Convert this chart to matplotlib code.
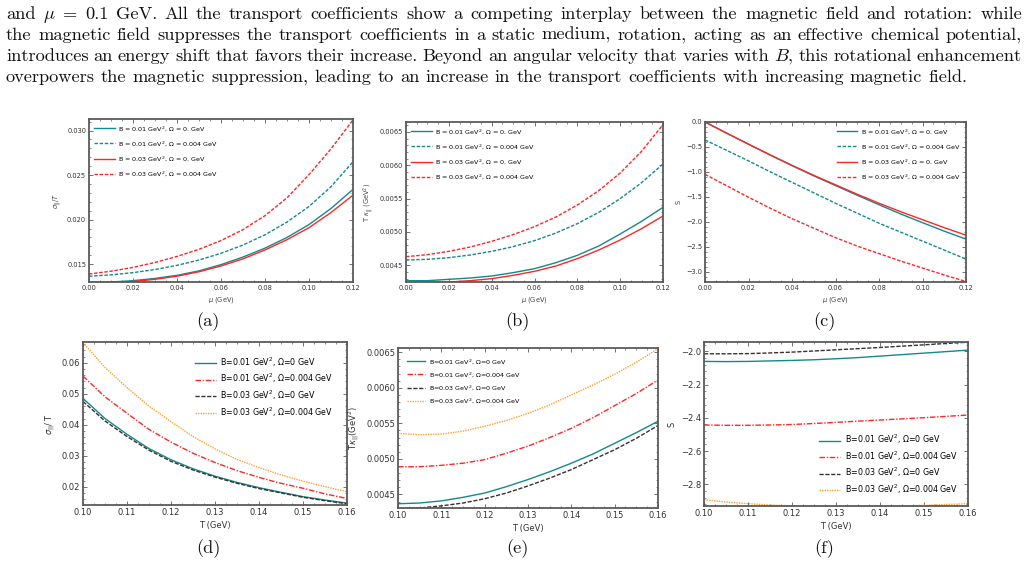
"""
Transport coefficients of a rotating, magnetised medium: six panels
(a)-(f) below the paragraph of text that introduces them.
"""

import matplotlib
matplotlib.use("Agg")
import matplotlib.pyplot as plt
from matplotlib.ticker import AutoMinorLocator


W, H = 1028, 567

# ---- data ----
mu = [0.00, 0.01, 0.02, 0.03, 0.04, 0.05, 0.06, 0.07, 0.08, 0.09, 0.10, 0.11, 0.12]
temp = [0.100, 0.105, 0.110, 0.115, 0.120, 0.125, 0.130, 0.135, 0.140, 0.145, 0.150, 0.155, 0.160]

# (a) sigma/T vs mu
sig_mu_b1_w0 = [0.01295, 0.01300, 0.01315, 0.01340, 0.01375, 0.01425, 0.01495, 0.01580, 0.01680, 0.01800, 0.01945, 0.02125, 0.02340]
sig_mu_b1_w4 = [0.01365, 0.01380, 0.01405, 0.01440, 0.01487, 0.01547, 0.01622, 0.01715, 0.01830, 0.01973, 0.02148, 0.02370, 0.02650]
sig_mu_b3_w0 = [0.01290, 0.01293, 0.01305, 0.01330, 0.01365, 0.01415, 0.01480, 0.01560, 0.01660, 0.01775, 0.01910, 0.02080, 0.02275]
sig_mu_b3_w4 = [0.01390, 0.01421, 0.01464, 0.01519, 0.01587, 0.01667, 0.01765, 0.01888, 0.02045, 0.02245, 0.02505, 0.02795, 0.03120]

# (b) T kappa vs mu
kap_mu_b1_w0 = [0.00427, 0.00427, 0.00429, 0.00431, 0.00434, 0.00439, 0.00445, 0.00454, 0.00465, 0.00479, 0.00497, 0.00516, 0.00537]
kap_mu_b1_w4 = [0.00458, 0.00459, 0.004615, 0.004655, 0.00471, 0.00478, 0.00487, 0.004985, 0.005125, 0.005295, 0.00550, 0.00574, 0.00602]
kap_mu_b3_w0 = [0.00424, 0.00424, 0.00425, 0.00427, 0.00430, 0.00435, 0.00441, 0.00449, 0.00460, 0.00473, 0.00488, 0.00505, 0.00524]
kap_mu_b3_w4 = [0.00463, 0.00466, 0.00471, 0.004775, 0.00486, 0.00496, 0.00508, 0.005225, 0.005405, 0.00562, 0.005885, 0.00621, 0.00661]

# (c) S vs mu
s_mu_b1_w0 = [0.0, -0.225, -0.445, -0.665, -0.876, -1.08, -1.275, -1.47, -1.66, -1.845, -2.02, -2.19, -2.35]
s_mu_b1_w4 = [-0.36, -0.57, -0.78, -1.00, -1.21, -1.42, -1.63, -1.83, -2.03, -2.21, -2.39, -2.57, -2.75]
s_mu_b3_w0 = [0.0, -0.225, -0.445, -0.66, -0.87, -1.07, -1.26, -1.45, -1.63, -1.80, -1.96, -2.12, -2.27]
s_mu_b3_w4 = [-1.05, -1.28, -1.51, -1.73, -1.94, -2.13, -2.32, -2.49, -2.64, -2.79, -2.93, -3.07, -3.20]

# (d) sigma/T vs T
sig_t_b1_w0 = [0.0485, 0.0420, 0.0369, 0.0323, 0.0287, 0.0258, 0.0234, 0.0214, 0.0197, 0.0182, 0.0168, 0.0157, 0.0147]
sig_t_b1_w4 = [0.0557, 0.0490, 0.0437, 0.0385, 0.0344, 0.0308, 0.0278, 0.0252, 0.0230, 0.0211, 0.0195, 0.0177, 0.0162]
sig_t_b3_w0 = [0.0475, 0.0412, 0.0362, 0.0318, 0.0282, 0.0254, 0.0231, 0.0211, 0.0194, 0.0180, 0.0166, 0.0155, 0.0145]
sig_t_b3_w4 = [0.0665, 0.0585, 0.0520, 0.0460, 0.0410, 0.0362, 0.0322, 0.0288, 0.0262, 0.0238, 0.0218, 0.0200, 0.0184]

# (e) T kappa vs T
kap_t_b1_w0 = [0.00437, 0.00438, 0.00441, 0.00446, 0.00452, 0.00461, 0.00471, 0.00482, 0.00494, 0.00507, 0.00522, 0.00537, 0.00553]
kap_t_b1_w4 = [0.00489, 0.00489, 0.00491, 0.00494, 0.00499, 0.00508, 0.00518, 0.00530, 0.00543, 0.00558, 0.00575, 0.00592, 0.00611]
kap_t_b3_w0 = [0.00430, 0.00431, 0.00434, 0.00438, 0.00444, 0.00452, 0.00462, 0.00473, 0.00485, 0.00499, 0.00513, 0.00529, 0.00547]
kap_t_b3_w4 = [0.00536, 0.00534, 0.00535, 0.00539, 0.00546, 0.00554, 0.00564, 0.00576, 0.00590, 0.00604, 0.00619, 0.00636, 0.00655]

# (f) S vs T
s_t_b1_w0 = [-2.060, -2.061, -2.060, -2.057, -2.054, -2.050, -2.044, -2.037, -2.028, -2.019, -2.010, -2.001, -1.992]
s_t_b1_w4 = [-2.443, -2.445, -2.445, -2.443, -2.440, -2.434, -2.427, -2.420, -2.413, -2.406, -2.399, -2.391, -2.383]
s_t_b3_w0 = [-2.014, -2.014, -2.013, -2.009, -2.004, -1.997, -1.990, -1.983, -1.976, -1.968, -1.960, -1.952, -1.944]
s_t_b3_w4 = [-2.893, -2.907, -2.917, -2.925, -2.930, -2.933, -2.935, -2.935, -2.934, -2.931, -2.927, -2.922, -2.917]

labels_mu = [
    "B = 0.01 GeV$^2$, Ω = 0. GeV",
    "B = 0.01 GeV$^2$, Ω = 0.004 GeV",
    "B = 0.03 GeV$^2$, Ω = 0. GeV",
    "B = 0.03 GeV$^2$, Ω = 0.004 GeV",
]
labels_t = [
    "B=0.01 GeV$^2$, Ω=0 GeV",
    "B=0.01 GeV$^2$, Ω=0.004 GeV",
    "B=0.03 GeV$^2$, Ω=0 GeV",
    "B=0.03 GeV$^2$, Ω=0.004 GeV",
]

paragraph = [
    r"and $\mu$ = 0.1 GeV.  All the transport coefficients show a competing interplay between the magnetic field and rotation: while",
    r"the magnetic field suppresses the transport coefficients in a static medium, rotation, acting as an effective chemical potential,",
    r"introduces an energy shift that favors their increase. Beyond an angular velocity that varies with $B$, this rotational enhancement",
    r"overpowers the magnetic suppression, leading to an increase in the transport coefficients with increasing magnetic field.",
]

TEAL = "#14898b"
RED = "#ff2626"
DARK = "#3a3030"
ORANGE = "#ffa030"
FRAME = "#5a5a5a"


def px_rect(left, top, right, bottom):
    """axes rect in figure fraction from pixel edges"""
    return [left / W, 1 - bottom / H, (right - left) / W, (bottom - top) / H]


def style_axes(ax, size):
    for sp in ax.spines.values():
        sp.set_color(FRAME)
        sp.set_linewidth(1.3)
    ax.xaxis.set_minor_locator(AutoMinorLocator(4))
    ax.yaxis.set_minor_locator(AutoMinorLocator(5))
    ax.tick_params(which="both", direction="in", top=True, right=True,
                   color=FRAME, labelcolor="#333333", labelsize=size, pad=2)
    ax.tick_params(which="major", length=3, width=0.6)
    ax.tick_params(which="minor", length=1.5, width=0.5)


def word_gap(fig, renderer, size):
    """width of a normal inter-word space"""
    a = fig.text(0, 0, "a b", fontsize=size, family="cmr10")
    b = fig.text(0, 0, "ab", fontsize=size, family="cmr10")
    gap = a.get_window_extent(renderer).width - b.get_window_extent(renderer).width
    a.remove()
    b.remove()
    return gap


def justify_line(fig, renderer, text, y, x0, x1, size, last=False):
    """place the words of one line so that they fill x0..x1 (pixels)"""
    words = text.split()
    items = [
        fig.text(0, 1 - y / H, w, fontsize=size, family="cmr10",
                 math_fontfamily="cm", va="baseline", color="#111111")
        for w in words
    ]
    widths = [t.get_window_extent(renderer).width for t in items]
    if last:
        gap = word_gap(fig, renderer, size)
    else:
        gap = (x1 - x0 - sum(widths)) / (len(words) - 1)
    x = x0
    for t, w in zip(items, widths):
        t.set_x(x / W)
        x += w + gap


fig = plt.figure(figsize=(W / 100, H / 100), dpi=100)
fig.patch.set_facecolor("white")
renderer = fig.canvas.get_renderer()

# paragraph above the figure
probe = fig.text(0, 0, paragraph[-1], fontsize=12, family="cmr10", math_fontfamily="cm")
text_size = 12 * 964 / probe.get_window_extent(renderer).width
probe.remove()
for i, line in enumerate(paragraph):
    justify_line(fig, renderer, line, 19 + 21 * i, 6, 1022, text_size,
                 last=(i == len(paragraph) - 1))

# ---- top row: versus chemical potential ----
top_panels = [
    (px_rect(89, 119, 353, 282), [sig_mu_b1_w0, sig_mu_b1_w4, sig_mu_b3_w0, sig_mu_b3_w4],
     r"$\sigma_{||}/T$", (0.0130, 0.0313), [0.015, 0.020, 0.025, 0.030], "upper left"),
    (px_rect(406, 122, 663, 282), [kap_mu_b1_w0, kap_mu_b1_w4, kap_mu_b3_w0, kap_mu_b3_w4],
     r"T $\kappa_{||}$ (GeV$^2$)", (0.00425, 0.00665),
     [0.0045, 0.0050, 0.0055, 0.0060, 0.0065], "upper left"),
    (px_rect(705, 122, 966, 282), [s_mu_b1_w0, s_mu_b1_w4, s_mu_b3_w0, s_mu_b3_w4],
     "S", (-3.21, 0.0), [0.0, -0.5, -1.0, -1.5, -2.0, -2.5, -3.0], "upper right"),
]
for rect, series, ylabel, ylim, yticks, loc in top_panels:
    ax = fig.add_axes(rect)
    styles = [(TEAL, "-"), (TEAL, (0, (2.5, 1.2))), (RED, "-"), (RED, (0, (2.5, 1.2)))]
    for ys, (c, ls), lab in zip(series, styles, labels_mu):
        ax.plot(mu, ys, color=c, linestyle=ls, lw=1.0, label=lab)
    ax.set_xlim(0, 0.12)
    ax.set_ylim(*ylim)
    ax.set_xticks([0.00, 0.02, 0.04, 0.06, 0.08, 0.10, 0.12])
    ax.set_yticks(yticks)
    style_axes(ax, 4.8)
    ax.set_xlabel(r"$\mu$ (GeV)", fontsize=4.8, color="#444444", labelpad=3)
    ax.set_ylabel(ylabel, fontsize=4.8, color="#444444", labelpad=3)
    ax.legend(loc=loc, frameon=False, fontsize=4.6, handlelength=3.2,
              labelspacing=1.0, borderaxespad=0.4, handletextpad=0.6)

# ---- bottom row: versus temperature ----
bottom_panels = [
    (px_rect(83, 342, 347, 505), [sig_t_b1_w0, sig_t_b1_w4, sig_t_b3_w0, sig_t_b3_w4],
     r"$\sigma_{||}/$ T", (0.0141, 0.0667), [0.02, 0.03, 0.04, 0.05, 0.06],
     dict(loc="upper right", fontsize=5.7, labelspacing=0.4, borderaxespad=1.3,
          handlelength=2.6)),
    (px_rect(398, 348, 658, 508), [kap_t_b1_w0, kap_t_b1_w4, kap_t_b3_w0, kap_t_b3_w4],
     r"T$\kappa_{||}$(GeV$^2$)", (0.00431, 0.00656),
     [0.0045, 0.0050, 0.0055, 0.0060, 0.0065],
     dict(loc="upper left", fontsize=4.6, labelspacing=0.7, borderaxespad=1.0,
          handlelength=2.8)),
    (px_rect(704, 342, 968, 506), [s_t_b1_w0, s_t_b1_w4, s_t_b3_w0, s_t_b3_w4],
     "S", (-2.931, -1.943), [-2.0, -2.2, -2.4, -2.6, -2.8],
     dict(loc="lower right", fontsize=5.7, labelspacing=0.38, borderaxespad=0.9,
          handlelength=2.6)),
]
for rect, series, ylabel, ylim, yticks, leg in bottom_panels:
    ax = fig.add_axes(rect)
    styles = [(TEAL, "-"), (RED, (0, (4, 1.2, 1, 1.2))), (DARK, (0, (3, 1.2))), (ORANGE, (0, (1, 0.8)))]
    for ys, (c, ls), lab in zip(series, styles, labels_t):
        ax.plot(temp, ys, color=c, linestyle=ls, lw=1.0, label=lab)
    ax.set_xlim(0.10, 0.16)
    ax.set_ylim(*ylim)
    ax.set_xticks([0.10, 0.11, 0.12, 0.13, 0.14, 0.15, 0.16])
    ax.set_yticks(yticks)
    style_axes(ax, 6.0)
    ax.set_xlabel("T (GeV)", fontsize=6.0, color="#333333", labelpad=3)
    ax.set_ylabel(ylabel, fontsize=6.0, color="#333333", labelpad=3)
    ax.legend(frameon=False, handletextpad=0.6, **leg)

# panel captions
for cap, x, y in [("(a)", 208, 322), ("(b)", 517, 322), ("(c)", 824, 322),
                  ("(d)", 208, 549), ("(e)", 517, 549), ("(f)", 824, 549)]:
    fig.text(x / W, 1 - y / H, cap, fontsize=text_size, family="cmr10",
             ha="center", va="center", color="#111111")

fig.savefig("out.png", dpi=100)
